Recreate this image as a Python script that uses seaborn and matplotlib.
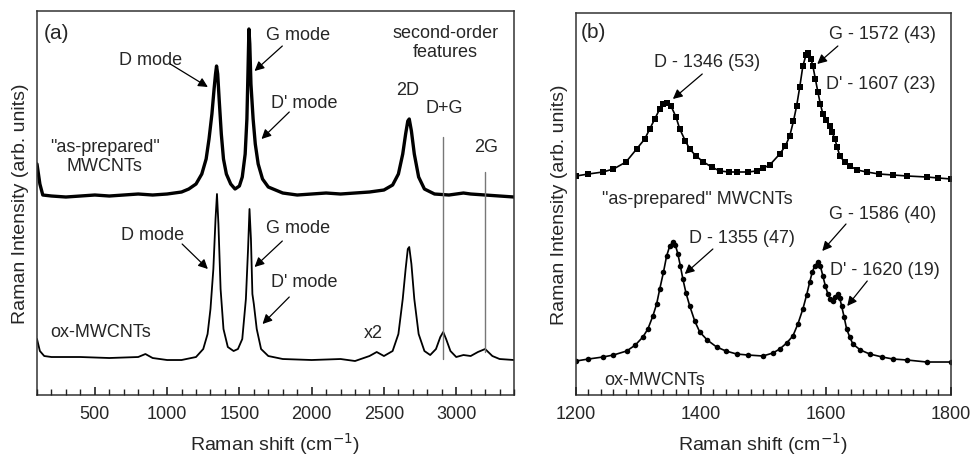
import numpy as np
import pandas as pd
import seaborn as sns
import matplotlib.pyplot as plt
from matplotlib.ticker import MultipleLocator

# Panel (a): full-range spectra (arb. units)
shift_a_top = [100, 120, 140, 200, 300, 400, 500, 600, 700, 800, 900, 1000, 1100, 1150,
               1200, 1240, 1270, 1290, 1310, 1325, 1335, 1342, 1350, 1360, 1375, 1390,
               1410, 1440, 1470, 1500, 1520, 1540, 1552, 1560, 1566, 1572, 1580, 1595,
               1610, 1630, 1660, 1700, 1800, 1900, 2000, 2100, 2200, 2300, 2400, 2500,
               2560, 2600, 2630, 2650, 2665, 2675, 2690, 2710, 2740, 2780, 2850, 2950,
               3050, 3100, 3200, 3300, 3400]
int_a_top = [231, 211, 200, 199, 198, 199, 200, 199, 200, 201, 200, 201, 203, 206,
             211, 221, 236, 256, 281, 306, 321, 329, 321, 296, 261, 236,
             221, 211, 206, 209, 218, 241, 276, 326, 366, 351, 311, 276,
             251, 231, 216, 208, 202, 200, 201, 202, 201, 202, 203, 205,
             210, 221, 241, 261, 274, 276, 264, 241, 218, 206, 201, 200,
             202, 201, 200, 199, 198]

shift_a_bot = [100, 120, 150, 200, 400, 600, 800, 850, 900, 1000, 1100, 1200, 1250, 1280,
               1300, 1320, 1335, 1345, 1355, 1370, 1390, 1420, 1460, 1490, 1520, 1545,
               1560, 1570, 1580, 1590, 1600, 1620, 1650, 1700, 1800, 2000, 2200, 2300,
               2400, 2450, 2500, 2560, 2600, 2630, 2650, 2665, 2675, 2690, 2710, 2740,
               2780, 2820, 2860, 2890, 2910, 2930, 2960, 3000, 3050, 3100, 3150, 3200,
               3250, 3300, 3400]
int_a_bot = [56, 44, 39, 38, 38, 37, 38, 41, 37, 35, 35, 38, 46, 61,
             86, 126, 176, 201, 171, 106, 66, 48, 44, 46, 56, 96,
             146, 186, 156, 101, 91, 66, 46, 39, 36, 35, 36, 34,
             39, 43, 39, 44, 61, 96, 126, 146, 148, 131, 96, 61,
             44, 40, 46, 58, 63, 56, 44, 38, 40, 39, 43, 46,
             39, 36, 35]

# Panel (b): zoom on D / G region
shift_b_top = [1200, 1220, 1243, 1260, 1280, 1297, 1310, 1318, 1326, 1334, 1340, 1346, 1352,
               1360, 1366, 1375, 1382, 1392, 1404, 1417, 1430, 1445, 1457, 1475, 1489,
               1500, 1510, 1526, 1535, 1542, 1548, 1553, 1558, 1563, 1568, 1572, 1576,
               1579, 1583, 1587, 1591, 1595, 1600, 1606, 1610, 1614, 1618, 1622, 1630,
               1638, 1650, 1665, 1685, 1707, 1730, 1761, 1780, 1800]
int_b_top = [219, 221, 223, 226, 233, 246, 256, 266, 276, 286, 291, 292, 289,
             278, 266, 254, 246, 239, 233, 228, 224, 223, 223, 223, 224,
             227, 230, 241, 249, 259, 274, 289, 308, 329, 340, 342, 336,
             329, 316, 303, 291, 281, 275, 269, 263, 256, 248, 239, 233,
             229, 225, 223, 221, 220, 219, 218, 217, 216]

shift_b_bot = [1200, 1220, 1243, 1260, 1281, 1295, 1307, 1315, 1323, 1329, 1334, 1340, 1345,
               1350, 1355, 1359, 1363, 1367, 1371, 1376, 1382, 1390, 1398, 1410, 1425,
               1440, 1457, 1475, 1499, 1515, 1526, 1537, 1547, 1555, 1563, 1569, 1574,
               1578, 1582, 1587, 1591, 1595, 1599, 1603, 1607, 1611, 1615, 1619, 1622,
               1625, 1629, 1633, 1638, 1643, 1655, 1670, 1690, 1707, 1730, 1761, 1800]
int_b_bot = [34, 36, 38, 40, 44, 50, 58, 66, 79, 91, 106, 123, 139,
             149, 153, 150, 141, 129, 116, 102, 89, 74, 63, 55, 48,
             44, 41, 40, 39, 42, 46, 52, 59, 71, 86, 100, 113,
             123, 129, 133, 129, 119, 109, 101, 96, 94, 98, 101, 97,
             89, 78, 66, 58, 51, 45, 41, 38, 36, 35, 33, 33]

sns.set_style('ticks')
plt.rcParams['font.family'] = ['Liberation Sans', 'DejaVu Sans']
fs = 13

fig = plt.figure(figsize=(9.71, 4.6), dpi=100)
ax_a = fig.add_axes([0.0381, 0.1391, 0.4913, 0.8348])
ax_b = fig.add_axes([0.5932, 0.1391, 0.3862, 0.8305])

# ---- panel (a)
sns.lineplot(x=shift_a_top, y=int_a_top, ax=ax_a, color='k', lw=2.4, sort=False)
sns.lineplot(x=shift_a_bot, y=int_a_bot, ax=ax_a, color='k', lw=1.3, sort=False)
ax_a.plot([2909, 2909], [36, 258], color='#777777', lw=1)
ax_a.plot([3197, 3197], [43, 223], color='#777777', lw=1)
ax_a.set_xlim(100, 3400)
ax_a.set_ylim(0, 384)
ax_a.xaxis.set_major_locator(MultipleLocator(500))
ax_a.xaxis.set_minor_locator(MultipleLocator(100))

arrow = dict(arrowstyle='-|>', color='k', lw=0.9, mutation_scale=14, shrinkA=0, shrinkB=0)
txt_a = [('D mode', 884, 336, 'center'), ('G mode', 1907, 361, 'center'),
         ("D' mode", 1948, 293, 'center'), ('"as-prepared"\nMWCNTs', 569, 239, 'center'),
         ('second-order\nfeatures', 2923, 353, 'center'), ('2D', 2662, 306, 'center'),
         ('D+G', 2916, 288, 'center'), ('2G', 3204, 249, 'center'),
         ('D mode', 898, 161, 'center'), ('G mode', 1907, 168, 'center'),
         ("D' mode", 1948, 114, 'center'), ('ox-MWCNTs', 541, 64, 'center'),
         ('x2', 2429, 63, 'center')]
for s, x, y, ha in txt_a:
    ax_a.text(x, y, s, ha=ha, va='center', fontsize=fs, linespacing=1.15)
ax_a.text(145, 363, '(a)', ha='left', va='center', fontsize=15)
arr_a = [((1022, 331), (1282, 308)), ((1797, 349), (1605, 324)), ((1845, 283), (1653, 256)),
         ((1104, 151), (1282, 126)), ((1797, 154), (1605, 128)), ((1845, 98), (1660, 71))]
for start, tip in arr_a:
    ax_a.annotate('', xy=tip, xytext=start, arrowprops=arrow)

# ---- panel (b)
sns.lineplot(x=shift_b_top, y=int_b_top, ax=ax_b, color='k', lw=1.2, marker='s',
             markersize=3.8, markeredgewidth=0, sort=False)
sns.lineplot(x=shift_b_bot, y=int_b_bot, ax=ax_b, color='k', lw=1.2, marker='o',
             markersize=4, markeredgewidth=0, sort=False)
ax_b.set_xlim(1200, 1800)
ax_b.set_ylim(0, 382)
ax_b.xaxis.set_major_locator(MultipleLocator(200))
ax_b.xaxis.set_minor_locator(MultipleLocator(20))

txt_b = [('D - 1346 (53)', 1410, 333, 'center'),
         ('G - 1572 (43)', 1690, 361, 'center'), ("D' - 1607 (23)", 1688, 311, 'center'),
         ('"as-prepared" MWCNTs', 1394, 196, 'center'), ('G - 1586 (40)', 1690, 181, 'center'),
         ('D - 1355 (47)', 1466, 158, 'center'), ("D' - 1620 (19)", 1694, 126, 'center'),
         ('ox-MWCNTs', 1326, 16, 'center')]
for s, x, y, ha in txt_b:
    ax_b.text(x, y, s, ha=ha, va='center', fontsize=fs)
ax_b.text(1208, 363, '(b)', ha='left', va='center', fontsize=15)
arr_b = [((1402, 321), (1355, 296)), ((1619, 349), (1586, 331)), ((1632, 171), (1594, 144)),
         ((1419, 146), (1374, 121)), ((1666, 114), (1634, 89))]
for start, tip in arr_b:
    ax_b.annotate('', xy=tip, xytext=start, arrowprops=arrow)

for ax in (ax_a, ax_b):
    ax.set_yticks([])
    ax.set_axisbelow(False)
    ax.tick_params(axis='x', which='major', direction='in', length=6, width=1.2,
                   color='#222222', labelsize=fs, pad=7, bottom=True, top=False)
    ax.tick_params(axis='x', which='minor', direction='in', length=4, width=1,
                   color='#222222', bottom=True, top=False)
    for sp in ax.spines.values():
        sp.set_visible(True)
        sp.set_color('#333333')
        sp.set_linewidth(1.1)
    ax.set_xlabel('Raman shift (cm$^{-1}$)', fontsize=14, labelpad=6)
    ax.set_ylabel('Raman Intensity (arb. units)', fontsize=14, labelpad=6)

fig.savefig('out.png', dpi=100)
